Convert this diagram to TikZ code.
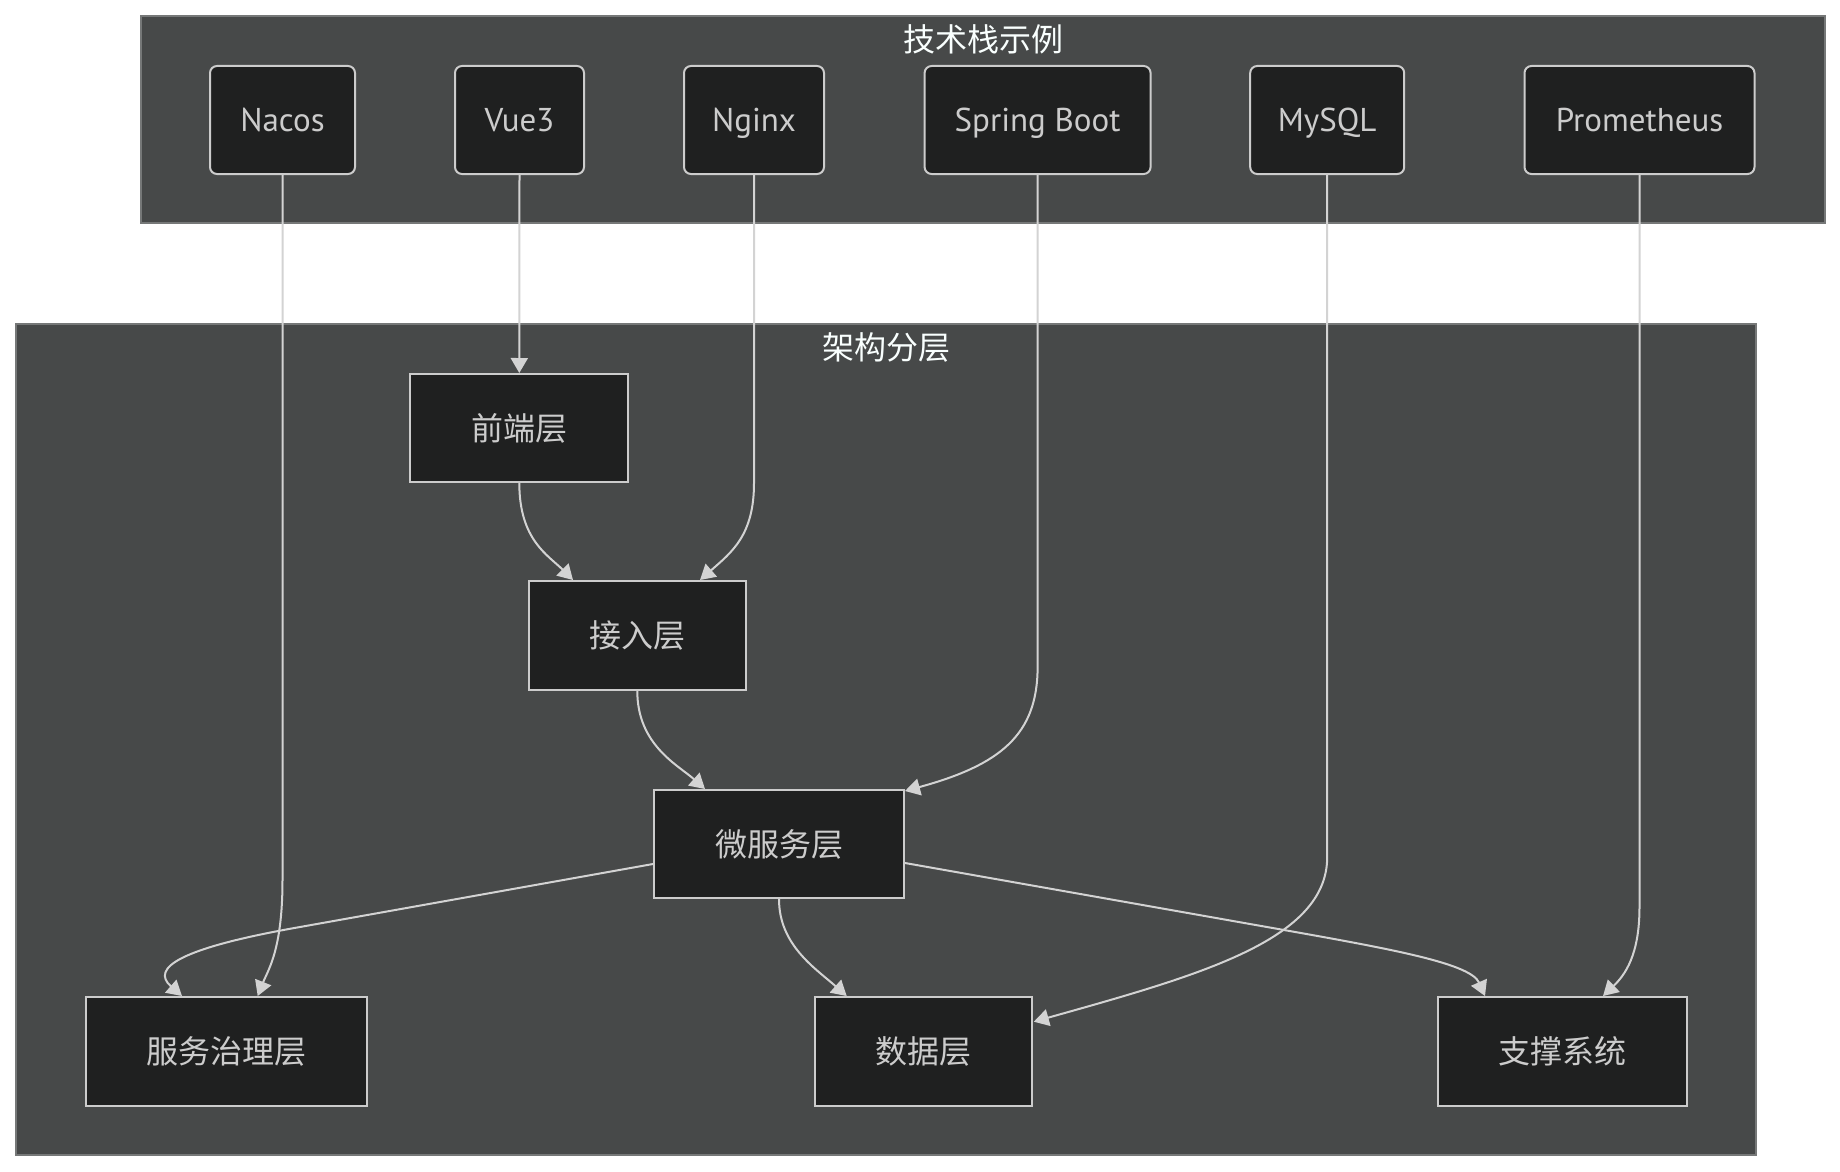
\documentclass[tikz,border=0pt]{standalone}
\usepackage{fontspec}
\setmainfont{PT Sans}
\newfontfamily\cjk{Noto Sans CJK SC}
\usetikzlibrary{arrows.meta}
\definecolor{clusterbg}{HTML}{474949}
\definecolor{clusterline}{HTML}{767878}
\definecolor{nodebg}{HTML}{1F2020}
\definecolor{nodeline}{HTML}{CCCCCC}
\definecolor{edgecol}{HTML}{D3D3D3}
\definecolor{txt}{HTML}{CCCCCC}
\definecolor{ttl}{HTML}{F9FFFE}
\tikzset{
  cluster/.style={draw=clusterline, fill=clusterbg, line width=1.5pt, inner sep=0},
  ttlstyle/.style={text=ttl, font=\cjk\fontsize{32}{38}\selectfont, inner sep=0, text height=24pt, text depth=0pt},
  tech/.style={draw=nodeline, fill=nodebg, line width=2pt, rounded corners=7pt, minimum height=108pt, inner sep=0, text=txt, font=\fontsize{33}{38}\selectfont, text height=23pt, text depth=0pt},
  layer/.style={draw=nodeline, fill=nodebg, line width=2pt, minimum height=108pt, inner sep=0, text=txt, font=\cjk\fontsize{32}{38}\selectfont, text height=24pt, text depth=0pt},
  edge/.style={draw=edgecol, line width=2pt, -{Triangle[length=15pt,width=17pt]}},
}
\begin{document}
\begin{tikzpicture}[x=1pt,y=-1pt]
\useasboundingbox (0,0) rectangle (1840,1172);
\fill[white] (0,0) rectangle (1840,1172);
% clusters
\node[cluster, minimum width=1684pt, minimum height=207pt] (techbox) at (983,119.5) {};
\node[cluster, minimum width=1740pt, minimum height=831pt] (archbox) at (886,739.5) {};
\node[ttlstyle] (techtitle) at (983,40) {技术栈示例};
\node[ttlstyle] (archtitle) at (886,347) {架构分层};
% tech nodes
\node[tech, minimum width=145pt] (nacos) at (282.5,120) {Nacos};
\node[tech, minimum width=129pt] (vue) at (519.5,120) {Vue3};
\node[tech, minimum width=140pt] (nginx) at (754,120) {Nginx};
\node[tech, minimum width=226pt] (spring) at (1037.6,120) {Spring Boot};
\node[tech, minimum width=154pt] (mysql) at (1327.2,120) {MySQL};
\node[tech, minimum width=230pt] (prom) at (1639.5,120) {Prometheus};
% layer nodes
\node[layer, minimum width=218pt] (fe) at (519.3,428) {前端层};
\node[layer, minimum width=217pt, minimum height=109pt] (acc) at (637.3,635.5) {接入层};
\node[layer, minimum width=250pt] (ms) at (779,844) {微服务层};
\node[layer, minimum width=281pt, minimum height=109pt] (gov) at (226.7,1051.5) {服务治理层};
\node[layer, minimum width=217pt, minimum height=109pt] (data) at (923.3,1051.5) {数据层};
\node[layer, minimum width=249pt, minimum height=109pt] (sup) at (1562.4,1051.5) {支撑系统};
% edges
\draw[edge] (nacos.south) -- (282.5,880) .. controls (282.5,950) and (268,970) .. ([xshift=31pt]gov.north);
\draw[edge] (vue.south) -- (fe.north);
\draw[edge] (nginx.south) -- (754,483) .. controls (754,535) and (732,552) .. ([xshift=62.7pt]acc.north);
\draw[edge] (fe.south) .. controls (519.3,540) and (548,555) .. ([xshift=-64.3pt]acc.north);
\draw[edge] (acc.south) .. controls (637.3,745) and (678,765) .. ([xshift=-74pt]ms.north);
\draw[edge] (spring.south) -- (1037.6,667) .. controls (1037.6,735) and (1000,765) .. ([yshift=-2pt]ms.north east);
\draw[edge] ([yshift=-20pt]ms.west) -- (300,927) .. controls (180,948) and (150,968) .. ([xshift=-44.7pt]gov.north);
\draw[edge] (ms.south) .. controls (779,945) and (815,968) .. ([xshift=-76.6pt]data.north);
\draw[edge] ([yshift=-19pt]ms.east) -- (1250,924) .. controls (1380,947) and (1470,962) .. ([xshift=-77.4pt]sup.north);
\draw[edge] (mysql.south) -- (1327.2,857) .. controls (1327.2,940) and (1200,975) .. ([xshift=1pt,yshift=29.8pt]data.east);
\draw[edge] (prom.south) -- (1639.5,907) .. controls (1639.5,955) and (1625,975) .. ([xshift=40.6pt]sup.north);
\end{tikzpicture}
\end{document}
